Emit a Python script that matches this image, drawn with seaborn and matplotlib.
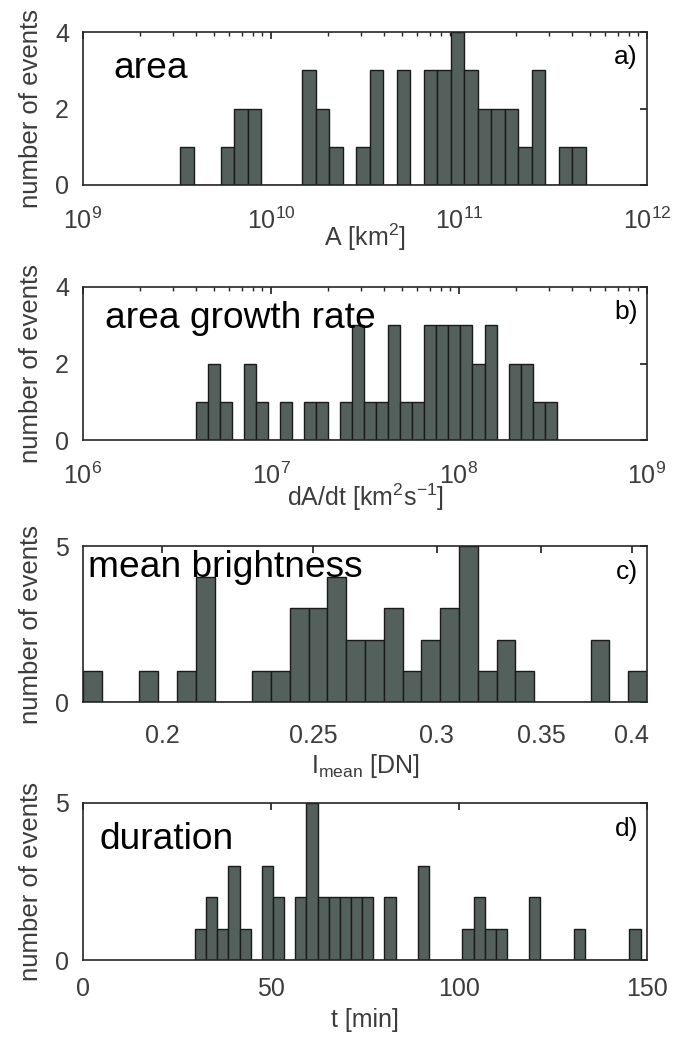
import numpy as np
import pandas as pd
import matplotlib
matplotlib.use("Agg")
import matplotlib.pyplot as plt
import matplotlib.ticker as mticker
import seaborn as sns

# histogram counts (30 log bins for a-c, 40 linear bins for d)
area_counts = [1, 0, 0, 1, 2, 2, 0, 0, 0, 3, 2, 1, 0, 1, 3,
               0, 3, 0, 3, 3, 4, 3, 2, 2, 2, 1, 3, 0, 1, 1]
growth_counts = [1, 2, 1, 0, 2, 1, 0, 1, 0, 1, 1, 0, 1, 3, 1,
                 1, 3, 1, 1, 3, 3, 3, 3, 2, 3, 0, 2, 2, 1, 1]
bright_counts = [1, 0, 0, 1, 0, 1, 4, 0, 0, 1, 1, 3, 3, 4, 2,
                 2, 3, 1, 2, 3, 5, 1, 2, 1, 0, 0, 0, 2, 0, 1]
dur_counts = [1, 2, 1, 3, 1, 0, 3, 2, 0, 2, 5, 2, 2, 2, 2, 2, 0, 2, 0, 0,
              3, 0, 0, 0, 1, 2, 1, 1, 0, 0, 2, 0, 0, 0, 1, 0, 0, 0, 0, 1]

# bin ranges (log10 exponents for a-c, minutes for d)
area_range = (9.518, 11.675)
growth_range = (6.599, 8.52)
bright_range = (np.log10(0.178), np.log10(0.409))
dur_range = (29.8, 148.3)

labels = ["area", "area growth rate", "mean brightness", "duration"]
letters = ["a)", "b)", "c)", "d)"]
xlabels = [r"A [km$^2$]", r"dA/dt [km$^2$s$^{-1}$]",
           r"I$_{\mathrm{mean}}$ [DN]", "t [min]"]

sns.set_theme(style="white")
plt.rcParams["font.family"] = ["Liberation Sans", "DejaVu Sans"]
plt.rcParams["mathtext.fontset"] = "custom"
plt.rcParams["mathtext.rm"] = "Liberation Sans"
plt.rcParams["mathtext.it"] = "Liberation Sans"

bar_color = "#53605b"
tick_color = "#3c3c3c"

fig = plt.figure(figsize=(6.81, 10.39), dpi=100)
W, H = 681, 1039
boxes = [(32, 185), (287, 440), (546, 702), (803, 960)]
# pixel row of the x-label centre for each panel
xlabel_rows = [237, 497, 766, 1020]
axes = []
for top, bot in boxes:
    axes.append(fig.add_axes([83 / W, 1 - bot / H, 564 / W, (bot - top) / H]))

counts_list = [area_counts, growth_counts, bright_counts, dur_counts]
ranges = [area_range, growth_range, bright_range, dur_range]
for i, ax in enumerate(axes):
    counts = counts_list[i]
    lo, hi = ranges[i]
    edges = np.linspace(lo, hi, len(counts) + 1)
    mids = (edges[:-1] + edges[1:]) / 2
    log = i < 3
    df = pd.DataFrame({"v": 10 ** mids if log else mids, "n": counts})
    sns.histplot(data=df, x="v", weights="n", bins=list(edges), log_scale=log,
                 color=bar_color, alpha=1, edgecolor="#1a1a1a", linewidth=1,
                 ax=ax)
    top, bot = boxes[i]
    h = bot - top
    ax.set_ylabel("number of events", fontsize=18.5, color=tick_color,
                  va="center", ha="center")
    ax.yaxis.set_label_coords(-(83 - 31) / 564, 0.5)
    ax.set_xlabel(xlabels[i], fontsize=18, color=tick_color, va="center")
    ax.xaxis.set_label_coords(0.5, -(xlabel_rows[i] - bot) / h)
    for s in ax.spines.values():
        s.set_color("#262626")
        s.set_linewidth(1.2)
    ax.tick_params(which="both", direction="in", top=True, right=True,
                   colors="#262626", labelcolor=tick_color, labelsize=18)
    ax.tick_params(axis="x", which="major", length=5, pad=16 if log else 12)
    ax.tick_params(axis="x", which="minor", length=3)
    ax.tick_params(axis="y", length=5, pad=10)

axes[0].set_xlim(1e9, 1e12)
axes[0].set_ylim(0, 4)
axes[0].set_yticks([0, 2, 4])
axes[1].set_xlim(1e6, 1e9)
axes[1].set_ylim(0, 4)
axes[1].set_yticks([0, 2, 4])
for ax in axes[:2]:
    ax.xaxis.set_major_locator(mticker.LogLocator(base=10, numticks=10))
    ax.xaxis.set_minor_locator(mticker.LogLocator(base=10, subs=np.arange(2, 10), numticks=20))
    ax.xaxis.set_minor_formatter(mticker.NullFormatter())

axes[2].set_xlim(10 ** bright_range[0], 10 ** bright_range[1])
axes[2].set_ylim(0, 5)
axes[2].set_yticks([0, 5])
axes[2].xaxis.set_minor_locator(mticker.NullLocator())
axes[2].set_xticks([0.2, 0.25, 0.3, 0.35, 0.4])
axes[2].set_xticklabels(["0.2", "0.25", "0.3", "0.35", "0.4"])

axes[3].set_xlim(0, 150)
axes[3].set_ylim(0, 5)
axes[3].set_yticks([0, 5])
axes[3].set_xticks([0, 50, 100, 150])

label_pos = [(0.053, 0.70), (0.039, 0.735), (0.009, 0.80), (0.03, 0.71)]
for ax, txt, let, (lx, ly) in zip(axes, labels, letters, label_pos):
    ax.text(lx, ly, txt, transform=ax.transAxes, fontsize=26.7, color="black",
            ha="left", va="baseline")
    ax.text(0.984, 0.79, let, transform=ax.transAxes, fontsize=19, color="black",
            ha="right", va="baseline")

fig.savefig("out.png", dpi=100, facecolor="white")
